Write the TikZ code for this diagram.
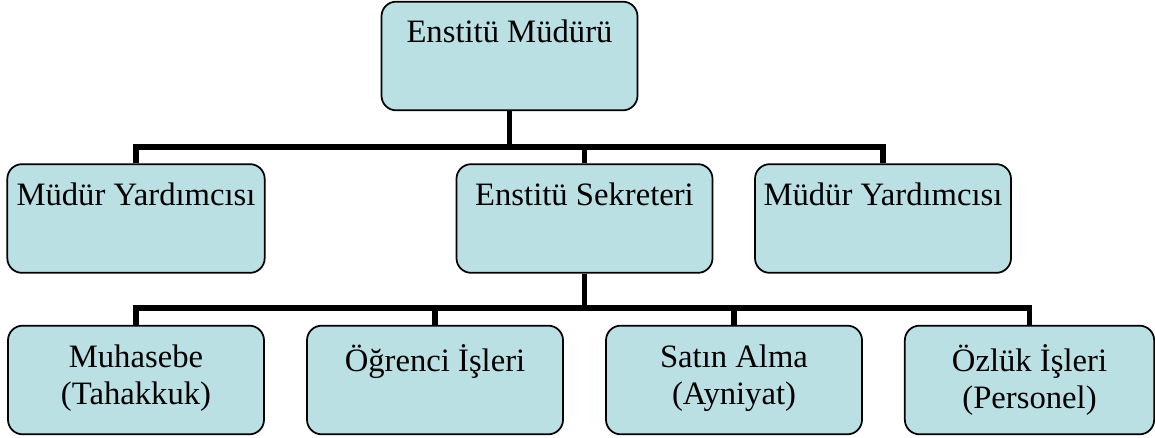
\documentclass[tikz,border=0pt]{standalone}
\usepackage{fontspec}
\setmainfont{Liberation Serif}
\usepackage{tikz}
\definecolor{unitfill}{RGB}{186,224,228}
\newcommand{\unittext}[2]{\parbox[c][81.5pt][t]{#1}{\centering\vspace*{14pt}#2}}

\begin{document}
\begin{tikzpicture}[x=0.75pt,y=-0.75pt,
 unit/.style={draw,line width=1.3pt,rounded corners=11pt,fill=unitfill,inner sep=0pt,
   font={\fontsize{24.5}{27.75}\selectfont}},
 link/.style={line width=4pt}]
\useasboundingbox (0,0) rectangle (1155,438);

\node[unit] (head) at (509.5,56) {\unittext{192pt}{Enstitü Müdürü}};

\node[unit] (dep1) at (136,218.5) {\unittext{193pt}{Müdür Yardımcısı}};
\node[unit] (sec)  at (584.5,218.5) {\unittext{192pt}{Enstitü Sekreteri}};
\node[unit] (dep2) at (883,218.5) {\unittext{192pt}{Müdür Yardımcısı}};

\node[unit] (acc)  at (136,380) {\unittext{192pt}{Muhasebe\\(Tahakkuk)}};
\node[unit] (stu)  at (435,380) {\unittext{192pt}{Öğrenci İşleri}};
\node[unit] (buy)  at (734,380) {\unittext{192pt}{Satın Alma\\(Ayniyat)}};
\node[unit] (pers) at (1029.5,380) {\unittext{187pt}{Özlük İşleri\\(Personel)}};

\coordinate (bus1) at (509.5,147);
\coordinate (bus2) at (584.5,308);

\draw[link] (head) -- (bus1);
\draw[link] (dep1.north) -- (dep1.north |- bus1) -- (dep2.north |- bus1) -- (dep2.north);
\draw[link] (sec.north) -- (sec.north |- bus1);

\draw[link] (sec) -- (bus2);
\draw[link] (acc.north) -- (acc.north |- bus2) -- (pers.north |- bus2) -- (pers.north);
\draw[link] (stu.north) -- (stu.north |- bus2);
\draw[link] (buy.north) -- (buy.north |- bus2);
\end{tikzpicture}
\end{document}
